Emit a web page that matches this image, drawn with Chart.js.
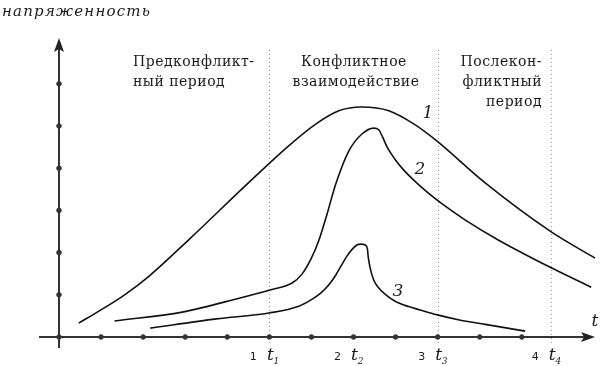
<!DOCTYPE html>
<html>
<head>
    <title>Напряженность конфликта</title>
    <script src="https://cdn.jsdelivr.net/npm/chart.js"></script>
    <style>
        body { margin: 0; background: #fff; }
        #wrap { width: 600px; height: 366px; }
    </style>
</head>
<body>
<div id="wrap"><canvas id="conflictChart" width="600" height="366"></canvas></div>
<script>
// values (x, y in tick units)
var curve1X = [0.47, 0.96, 1.56, 2.15, 3.10, 4.52, 5.46, 6.11, 6.65, 7.20, 7.84, 8.43, 8.95, 10.13, 11.70, 12.74];
var curve1Y = [0.33, 0.62, 1.00, 1.45, 2.32, 3.67, 4.53, 5.05, 5.36, 5.45, 5.36, 5.05, 4.67, 3.65, 2.49, 1.87];

var curve2X = [1.32, 2.93, 4.28, 4.99, 5.54, 5.775, 5.99, 6.18, 6.37, 6.58, 6.89, 7.20, 7.48, 7.60, 7.69, 7.81, 7.98, 8.19, 8.45, 8.78, 9.14, 9.66, 10.44, 11.70, 12.65];
var curve2Y = [0.38, 0.59, 0.92, 1.11, 1.28, 1.49, 1.85, 2.30, 2.91, 3.63, 4.41, 4.81, 4.95, 4.91, 4.74, 4.48, 4.22, 3.96, 3.70, 3.41, 3.13, 2.77, 2.30, 1.64, 1.18];

var curve3X = [2.17, 3.74, 4.99, 5.70, 5.99, 6.22, 6.41, 6.58, 6.72, 6.84, 6.96, 7.08, 7.17, 7.28, 7.33, 7.35, 7.39, 7.48, 7.60, 7.77, 8.00, 8.31, 8.59, 8.97, 9.49, 10.13, 11.08];
var curve3Y = [0.21, 0.43, 0.57, 0.73, 0.88, 1.04, 1.23, 1.47, 1.71, 1.91, 2.07, 2.18, 2.20, 2.18, 2.09, 1.90, 1.66, 1.35, 1.16, 1.00, 0.84, 0.72, 0.64, 0.53, 0.41, 0.30, 0.14];

var xTicks = [0, 1, 2, 3, 4, 5, 6, 7, 8, 9, 10, 11];
var yTicks = [1, 2, 3, 4, 5, 6];

var periodX = [5, 7, 9, 11.7];
var periodNum = ['1', '2', '3', '4'];
var dividerX = [5, 9, 11.7];

var curveNames = ['1', '2', '3'];

function toPoints(xs, ys) {
    return xs.map(function(x, i) { return {x: x, y: ys[i]}; });
}

function curveDataset(xs, ys) {
    return {
        data: toPoints(xs, ys),
        showLine: true,
        borderColor: '#111',
        borderWidth: 1.6,
        pointRadius: 0,
        cubicInterpolationMode: 'monotone',
        fill: false
    };
}

var serif = '"DejaVu Serif", serif';

var ctx = document.getElementById('conflictChart').getContext('2d');

var chart = new Chart(ctx, {
    type: 'scatter',
    data: {
        datasets: [
            curveDataset(curve1X, curve1Y),
            curveDataset(curve2X, curve2Y),
            curveDataset(curve3X, curve3Y),
            {
                // tick dots on the time axis
                data: xTicks.map(function(v) { return {x: v, y: 0}; }),
                pointRadius: 2.3,
                pointBackgroundColor: '#333',
                pointBorderColor: '#333'
            },
            {
                // tick dots on the vertical axis
                data: yTicks.map(function(v) { return {x: 0, y: v}; }),
                pointRadius: 2.3,
                pointBackgroundColor: '#333',
                pointBorderColor: '#333'
            }
        ]
    },
    options: {
        responsive: false,
        animation: false,
        clip: false,
        layout: {
            padding: {left: 59, right: 3, top: 38, bottom: 29}
        },
        scales: {
            x: {type: 'linear', min: 0, max: 12.74, display: false},
            y: {type: 'linear', min: 0, max: 7.085, display: false}
        },
        plugins: {
            legend: {display: false},
            tooltip: {enabled: false}
        }
    },
    plugins: [{
        id: 'axesAndText',
        beforeDatasetsDraw: function(chart) {
            var c = chart.ctx;
            var xs = chart.scales.x, ys = chart.scales.y;
            var x0 = xs.getPixelForValue(0), y0 = ys.getPixelForValue(0);
            var top = ys.top, right = xs.right;

            c.save();
            // period dividers
            c.strokeStyle = '#999';
            c.lineWidth = 1;
            c.setLineDash([1, 3]);
            dividerX.forEach(function(v) {
                var px = Math.round(xs.getPixelForValue(v)) + 0.5;
                c.beginPath();
                c.moveTo(px, 50);
                c.lineTo(px, y0 + 8);
                c.stroke();
            });
            c.setLineDash([]);

            // axes
            c.strokeStyle = '#333';
            c.lineWidth = 2;
            c.beginPath();
            c.moveTo(x0 - 20, y0);
            c.lineTo(right - 6, y0);
            c.moveTo(x0, y0 + 11);
            c.lineTo(x0, top + 6);
            c.stroke();

            // arrow heads
            c.fillStyle = '#222';
            c.beginPath();
            c.moveTo(right, y0);
            c.lineTo(right - 14, y0 - 5);
            c.lineTo(right - 11, y0);
            c.lineTo(right - 14, y0 + 5);
            c.closePath();
            c.fill();
            c.beginPath();
            c.moveTo(x0, top);
            c.lineTo(x0 - 5, top + 14);
            c.lineTo(x0, top + 11);
            c.lineTo(x0 + 5, top + 14);
            c.closePath();
            c.fill();
            c.restore();
        },
        afterDatasetsDraw: function(chart) {
            var c = chart.ctx;
            var xs = chart.scales.x, ys = chart.scales.y;
            var y0 = ys.getPixelForValue(0);
            c.save();
            c.fillStyle = '#1a1a1a';
            c.textBaseline = 'alphabetic';

            // y axis title
            c.font = 'italic 15px ' + serif;
            c.letterSpacing = '1.2px';
            c.textAlign = 'left';
            c.fillText('напряженность', 2, 16);
            c.letterSpacing = '0px';

            // period captions
            c.font = '14px ' + serif;
            c.letterSpacing = '0.5px';
            c.textAlign = 'left';
            c.fillText('Предконфликт-', 133, 66);
            c.fillText('ный период', 133, 86);
            c.textAlign = 'center';
            c.fillText('Конфликтное', 354, 66);
            c.fillText('взаимодействие', 356, 86);
            c.textAlign = 'right';
            c.fillText('Послекон-', 542, 66);
            c.fillText('фликтный', 542, 86);
            c.fillText('период', 542, 106);
            c.letterSpacing = '0px';

            // curve numbers
            c.font = 'italic 17px ' + serif;
            c.textAlign = 'center';
            c.fillText(curveNames[0], 428, 118);
            c.fillText(curveNames[1], 420, 174);
            c.fillText(curveNames[2], 398, 296);

            // time axis letter
            c.fillText('t', 595, 326);

            // period marks under the axis
            periodX.forEach(function(v, i) {
                var px = xs.getPixelForValue(v);
                c.font = '11px "DejaVu Sans", sans-serif';
                c.textAlign = 'center';
                c.fillText(periodNum[i], px - 16, y0 + 23);
                c.font = 'italic 17px ' + serif;
                c.fillText('t', px + 1, y0 + 23);
                c.font = 'italic 9px ' + serif;
                c.fillText(periodNum[i], px + 7, y0 + 27);
            });
            c.restore();
        }
    }]
});
</script>
</body>
</html>
